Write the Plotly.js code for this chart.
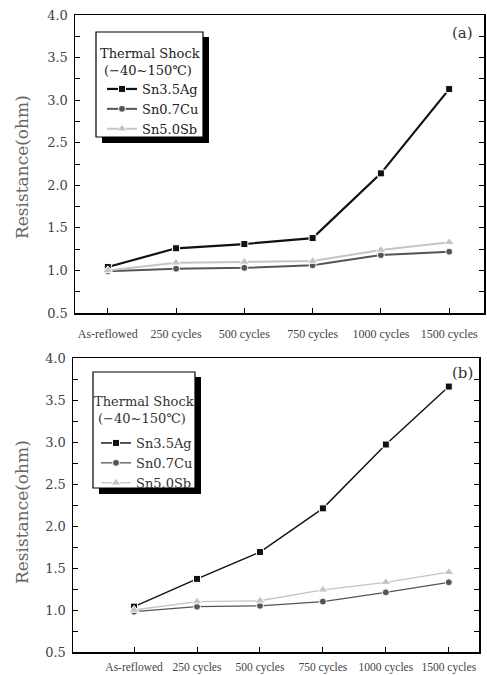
<!DOCTYPE html>
<html>
<head>
<meta charset="utf-8">
<script src="https://cdn.plot.ly/plotly-3.0.1.min.js"></script>
<style>html,body{margin:0;padding:0;background:#fff;}#chart{width:487px;height:675px;}</style>
</head>
<body>
<div id="chart"></div>
<script>
const categories = ["As-reflowed", "250 cycles", "500 cycles", "750 cycles", "1000 cycles", "1500 cycles"];
const seriesNames = ["Sn3.5Ag", "Sn0.7Cu", "Sn5.0Sb"];
// (a)
const a_Sn35Ag = [1.04, 1.26, 1.31, 1.38, 2.14, 3.13];
const a_Sn07Cu = [0.99, 1.02, 1.03, 1.06, 1.18, 1.22];
const a_Sn50Sb = [1.00, 1.09, 1.10, 1.11, 1.24, 1.33];
// (b)
const b_Sn35Ag = [1.04, 1.37, 1.69, 2.21, 2.97, 3.66];
const b_Sn07Cu = [0.98, 1.04, 1.05, 1.10, 1.21, 1.33];
const b_Sn50Sb = [1.00, 1.10, 1.11, 1.24, 1.33, 1.45];
const yTicks = [0.5, 1.0, 1.5, 2.0, 2.5, 3.0, 3.5, 4.0];

const W = 487, H = 675;
const px = v => v / W;
const py = v => 1 - v / H;

const serif = "DejaVu Serif, serif";
const tserif = "Liberation Serif, Times New Roman, serif";
const colors = ["#111111", "#555555", "#c4c4c4"];
const symbols = ["square", "circle", "triangle-up"];

function mk(vals, i, xa, ya, lg, lw) {
  return {
    x: categories, y: vals, name: seriesNames[i], xaxis: xa, yaxis: ya, legend: lg,
    type: "scatter", mode: "lines+markers",
    line: {color: colors[i], width: lw},
    marker: {symbol: symbols[i], size: i === 2 ? 9 : 7, color: colors[i], line: {color: "#fff", width: 1}}
  };
}

const data = [
  mk(a_Sn35Ag, 0, "x", "y", "legend", 2.2),
  mk(a_Sn07Cu, 1, "x", "y", "legend", 2),
  mk(a_Sn50Sb, 2, "x", "y", "legend", 2),
  mk(b_Sn35Ag, 0, "x2", "y2", "legend2", 1.4),
  mk(b_Sn07Cu, 1, "x2", "y2", "legend2", 1.3),
  mk(b_Sn50Sb, 2, "x2", "y2", "legend2", 1.3)
];

function xax(domain, range, standoff, size) {
  return {
    domain: domain, type: "category", range: range,
    showgrid: false, zeroline: false,
    showline: true, linecolor: "#000", linewidth: 1.5, mirror: true,
    ticks: "inside", ticklen: 5, tickcolor: "#000", tickwidth: 1,
    tickfont: {family: tserif, size: size, color: "#444"},
    ticklabelstandoff: standoff
  };
}
function yax(domain, anchor) {
  return {
    domain: domain, anchor: anchor, range: [0.5, 4.0],
    tickvals: yTicks, ticktext: yTicks.map(v => v.toFixed(1)),
    showgrid: false, zeroline: false,
    showline: true, linecolor: "#000", linewidth: 1.5, mirror: "ticks",
    ticks: "inside", ticklen: 5, tickcolor: "#000", tickwidth: 1,
    minor: {dtick: 0.25, tick0: 0.25, ticks: "inside", ticklen: 5, tickcolor: "#000", tickwidth: 1},
    tickfont: {family: serif, size: 13, color: "#444"},
    ticklabelstandoff: 3
  };
}

function legendBox(x0, y0, x1, y1) {
  return [
    {type: "rect", xref: "paper", yref: "paper", x0: px(x0 + 6), x1: px(x1 + 6), y0: py(y1 + 6), y1: py(y0 + 5),
     fillcolor: "#000", line: {width: 0}, layer: "above"},
    {type: "rect", xref: "paper", yref: "paper", x0: px(x0), x1: px(x1), y0: py(y1), y1: py(y0),
     fillcolor: "#fff", line: {color: "#000", width: 1.2}, layer: "above"}
  ];
}

function ann(text, x, y, size, color, angle) {
  return {text: text, xref: "paper", yref: "paper", x: px(x), y: py(y), xanchor: "center", yanchor: "middle",
          textangle: angle || 0, showarrow: false, font: {family: serif, size: size, color: color}};
}

const layout = {
  width: W, height: H,
  margin: {l: 0, r: 0, t: 0, b: 0},
  paper_bgcolor: "#fff", plot_bgcolor: "#fff",
  showlegend: true,
  xaxis: Object.assign(xax([px(75), px(484)], [-0.48, 5.51], 9, 12), {anchor: "y"}),
  yaxis: yax([py(313), py(15)], "x"),
  xaxis2: Object.assign(xax([px(73), px(479)], [-0.97, 5.48], 4, 11.5), {anchor: "y2"}),
  yaxis2: yax([py(652), py(358)], "x2"),
  legend: {x: px(102), y: py(74), xanchor: "left", yanchor: "top", bgcolor: "rgba(0,0,0,0)", borderwidth: 0,
           font: {family: serif, size: 13, color: "#222"}, tracegroupgap: 0},
  legend2: {x: px(96), y: py(428), xanchor: "left", yanchor: "top", bgcolor: "rgba(0,0,0,0)", borderwidth: 0,
            font: {family: serif, size: 13, color: "#333"}, tracegroupgap: 0},
  shapes: [].concat(legendBox(96, 32, 203, 137), legendBox(93, 372, 195, 488)),
  annotations: [
    ann("Resistance(ohm)", 22, 167, 17, "#666", -90),
    ann("Resistance(ohm)", 22, 512, 17, "#666", -90),
    ann("(a)", 462, 33, 15, "#333"),
    ann("(b)", 462, 373, 15, "#333"),
    ann("Thermal Shock", 150, 53, 13, "#222"),
    ann("(−40~150℃)", 148, 70, 13, "#222"),
    ann("Thermal Shock", 144, 402, 13, "#333"),
    ann("(−40~150℃)", 142, 418, 13, "#333")
  ]
};

Plotly.newPlot("chart", data, layout, {displayModeBar: false, staticPlot: true});
</script>
</body>
</html>
